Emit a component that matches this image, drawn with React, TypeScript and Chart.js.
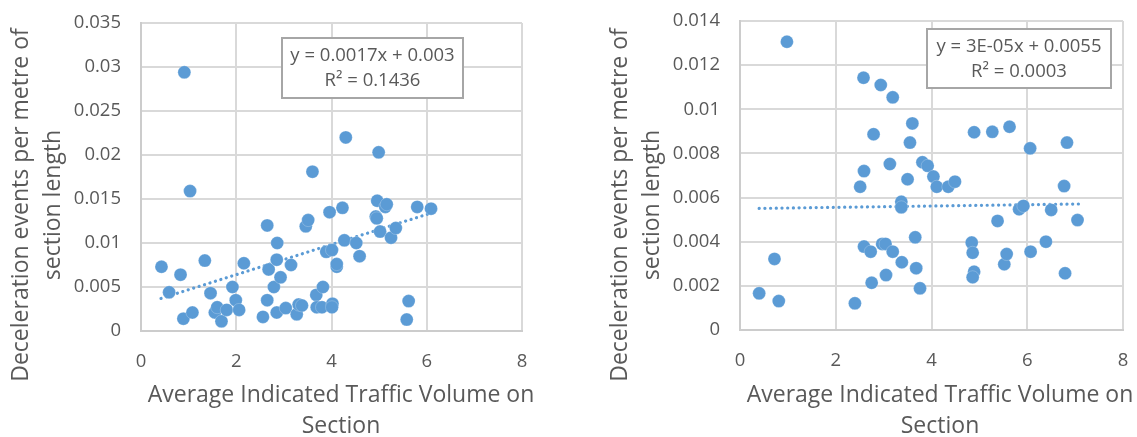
import React, { useEffect, useRef } from 'react';
import { Chart, registerables } from 'chart.js';

Chart.register(...registerables);

// ---------- data ----------
const xTickLabels = ['0', '2', '4', '6', '8'];
const leftYTickLabels = ['0', '0.005', '0.01', '0.015', '0.02', '0.025', '0.03', '0.035'];
const rightYTickLabels = ['0', '0.002', '0.004', '0.006', '0.008', '0.01', '0.012', '0.014'];

const xAxisTitle = ['Average Indicated Traffic Volume on', 'Section'];
const yAxisTitle = ['Deceleration events per metre of', 'section length'];

const leftEquation = ['y = 0.0017x + 0.003', 'R\u00B2 = 0.1436'];
const rightEquation = ['y = 3E-05x + 0.0055', 'R\u00B2 = 0.0003'];

const leftX = [
  0.91, 1.03, 0.43, 0.83, 0.59, 0.89, 1.08, 1.34, 1.46, 1.55,
  1.60, 1.69, 1.80, 1.92, 1.99, 2.06, 2.16, 2.56, 2.65, 2.65,
  2.68, 2.79, 2.85, 2.86, 2.85, 2.93, 3.04, 3.15, 3.27, 3.31,
  3.38, 3.46, 3.51, 3.60, 3.68, 3.69, 3.82, 3.80, 3.89, 3.96,
  4.01, 4.02, 4.01, 4.11, 4.11, 4.23, 4.27, 4.30, 4.52, 4.59,
  4.96, 4.93, 4.95, 4.99, 5.02, 5.13, 5.16, 5.25, 5.35, 5.62,
  5.58, 5.80, 6.09,
];
const leftY = [
  0.0294, 0.0159, 0.0073, 0.0064, 0.0044, 0.0014, 0.0021, 0.0080, 0.0043, 0.0021,
  0.0027, 0.0011, 0.0024, 0.0050, 0.0035, 0.0024, 0.0077, 0.0016, 0.0120, 0.0035,
  0.0070, 0.0050, 0.0081, 0.0100, 0.0021, 0.0061, 0.0026, 0.0075, 0.0019, 0.0030,
  0.0029, 0.0119, 0.0126, 0.0181, 0.0041, 0.0027, 0.0050, 0.0027, 0.0090, 0.0135,
  0.0092, 0.0031, 0.0027, 0.0073, 0.0076, 0.0140, 0.0103, 0.0220, 0.0100, 0.0085,
  0.0148, 0.0130, 0.0128, 0.0203, 0.0113, 0.0141, 0.0144, 0.0106, 0.0117, 0.0034,
  0.0013, 0.0141, 0.0139,
];

const rightX = [
  0.98, 0.40, 0.72, 0.81, 2.40, 2.51, 2.58, 2.59, 2.59, 2.73,
  2.75, 2.79, 2.94, 2.97, 3.04, 3.05, 3.13, 3.19, 3.19, 3.38,
  3.37, 3.37, 3.50, 3.55, 3.60, 3.66, 3.68, 3.76, 3.81, 3.92,
  4.04, 4.11, 4.35, 4.49, 4.84, 4.86, 4.89, 4.89, 4.86, 5.27,
  5.38, 5.52, 5.57, 5.63, 5.83, 5.92, 6.06, 6.07, 6.39, 6.50,
  6.77, 6.83, 6.79, 7.05,
];
const rightY = [
  0.01306, 0.00166, 0.00322, 0.00131, 0.00121, 0.00649, 0.01143, 0.00720, 0.00378, 0.00355,
  0.00214, 0.00887, 0.01110, 0.00390, 0.00390, 0.00249, 0.00752, 0.01054, 0.00355, 0.00307,
  0.00581, 0.00556, 0.00683, 0.00849, 0.00936, 0.00420, 0.00280, 0.00189, 0.00760, 0.00744,
  0.00695, 0.00649, 0.00649, 0.00672, 0.00396, 0.00350, 0.00896, 0.00264, 0.00239, 0.00898,
  0.00494, 0.00298, 0.00344, 0.00921, 0.00547, 0.00562, 0.00823, 0.00355, 0.00400, 0.00544,
  0.00652, 0.00849, 0.00257, 0.00498,
];

// trendline end points
const leftTrendX = [0.42, 6.09];
const leftTrendY = [0.0037, 0.0134];
const rightTrendX = [0.40, 7.08];
const rightTrendY = [0.00551, 0.00571];

// ---------- styling ----------
const BLUE = '#5B9BD5';
const TEXT = '#595959';
const GRID = '#D9D9D9';
const FONT = '"Open Sans", "Noto Sans", sans-serif';
const H = 437;

type PanelCfg = {
  left: number;
  width: number;
  xs: number[];
  ys: number[];
  tx: number[];
  ty: number[];
  yMax: number;
  yStep: number;
  yLabels: string[];
  equation: string[];
  plotTop: number;
  plotRight: number;
  plotBottom: number;
  box: { x1: number; y1: number; x2: number; y2: number };
};

const panels: PanelCfg[] = [
  {
    left: 0, width: 560, xs: leftX, ys: leftY, tx: leftTrendX, ty: leftTrendY,
    yMax: 0.035, yStep: 0.005, yLabels: leftYTickLabels, equation: leftEquation,
    plotTop: 23, plotRight: 522, plotBottom: 331,
    box: { x1: 282, y1: 38, x2: 463, y2: 98 },
  },
  {
    left: 599, width: 538, xs: rightX, ys: rightY, tx: rightTrendX, ty: rightTrendY,
    yMax: 0.014, yStep: 0.002, yLabels: rightYTickLabels, equation: rightEquation,
    plotTop: 21, plotRight: 524, plotBottom: 330,
    box: { x1: 328, y1: 29, x2: 512, y2: 88 },
  },
];

function makeOverlay(cfg: PanelCfg) {
  return {
    id: 'overlay',
    afterDraw(chart: any) {
      const ctx: CanvasRenderingContext2D = chart.ctx;
      ctx.save();
      // equation box
      const b = cfg.box;
      ctx.fillStyle = '#FFFFFF';
      ctx.fillRect(b.x1, b.y1, b.x2 - b.x1, b.y2 - b.y1);
      ctx.strokeStyle = '#A6A6A6';
      ctx.lineWidth = 2;
      ctx.strokeRect(b.x1, b.y1, b.x2 - b.x1, b.y2 - b.y1);
      ctx.fillStyle = TEXT;
      ctx.font = `18.5px ${FONT}`;
      ctx.textAlign = 'center';
      ctx.textBaseline = 'middle';
      const cx = (b.x1 + b.x2) / 2;
      const cy = (b.y1 + b.y2) / 2;
      ctx.fillText(cfg.equation[0], cx, cy - 12);
      ctx.fillText(cfg.equation[1], cx, cy + 13);

      // x axis title
      ctx.font = `23px ${FONT}`;
      ctx.textBaseline = 'alphabetic';
      ctx.fillText(xAxisTitle[0], 341, 402);
      ctx.fillText(xAxisTitle[1], 341, 433);

      // y axis title
      ctx.translate(28, 205);
      ctx.rotate(-Math.PI / 2);
      ctx.fillText(yAxisTitle[0], 0, 0);
      ctx.fillText(yAxisTitle[1], 0, 32);
      ctx.restore();
    },
  };
}

function Panel({ cfg }: { cfg: PanelCfg }) {
  const ref = useRef<HTMLCanvasElement>(null);
  useEffect(() => {
    if (!ref.current) return;
    const chart = new Chart(ref.current, {
      type: 'scatter',
      data: {
        datasets: [
          {
            label: 'data',
            data: cfg.xs.map((x, i) => ({ x, y: cfg.ys[i] })),
            backgroundColor: BLUE,
            borderColor: 'rgba(255,255,255,0.3)',
            borderWidth: 0.75,
            pointRadius: 6.5,
            pointHoverRadius: 6.5,
            order: 1,
          },
          {
            label: 'trend',
            type: 'line',
            data: cfg.tx.map((x, i) => ({ x, y: cfg.ty[i] })),
            borderColor: BLUE,
            borderWidth: 3.2,
            borderDash: [0.1, 5.6],
            borderCapStyle: 'round',
            pointRadius: 0,
            showLine: true,
            fill: false,
            order: 2,
          } as any,
        ],
      },
      options: {
        responsive: false,
        animation: false,
        events: [],
        layout: {
          padding: { left: 0, top: cfg.plotTop, right: cfg.width - cfg.plotRight, bottom: 0 },
        },
        plugins: {
          legend: { display: false },
          tooltip: { enabled: false },
          title: { display: false },
        },
        scales: {
          x: {
            type: 'linear',
            min: 0,
            max: 8,
            afterFit: (s: any) => {
              s.height = H - cfg.plotBottom;
              s.paddingLeft = 0;
              s.paddingRight = 0;
            },
            ticks: {
              stepSize: 2,
              padding: 20,
              color: TEXT,
              font: { family: FONT, size: 18.5 },
              callback: (_v: any, i: number) => xTickLabels[i],
            },
            grid: { color: GRID, lineWidth: 2, drawTicks: false },
            border: { color: '#CCCCCC', width: 2 },
          },
          y: {
            type: 'linear',
            min: 0,
            max: cfg.yMax,
            afterFit: (s: any) => {
              s.width = 141;
              s.paddingTop = 0;
              s.paddingBottom = 0;
            },
            ticks: {
              stepSize: cfg.yStep,
              padding: 20,
              color: TEXT,
              font: { family: FONT, size: 18.5 },
              callback: (_v: any, i: number) => cfg.yLabels[i],
            },
            grid: { color: GRID, lineWidth: 2, drawTicks: false },
            border: { color: '#CCCCCC', width: 2 },
          },
        },
      },
      plugins: [makeOverlay(cfg)],
    });
    return () => chart.destroy();
  }, [cfg]);
  return (
    <div style={{ position: 'absolute', left: cfg.left, top: 0, width: cfg.width, height: H }}>
      <canvas ref={ref} width={cfg.width} height={H} style={{ width: cfg.width, height: H, display: 'block' }} />
    </div>
  );
}

export default function App() {
  return (
    <div style={{ position: 'absolute', left: 0, top: 0, width: 1137, height: H, background: '#FFFFFF' }}>
      {panels.map((p, i) => (
        <Panel key={i} cfg={p} />
      ))}
    </div>
  );
}
